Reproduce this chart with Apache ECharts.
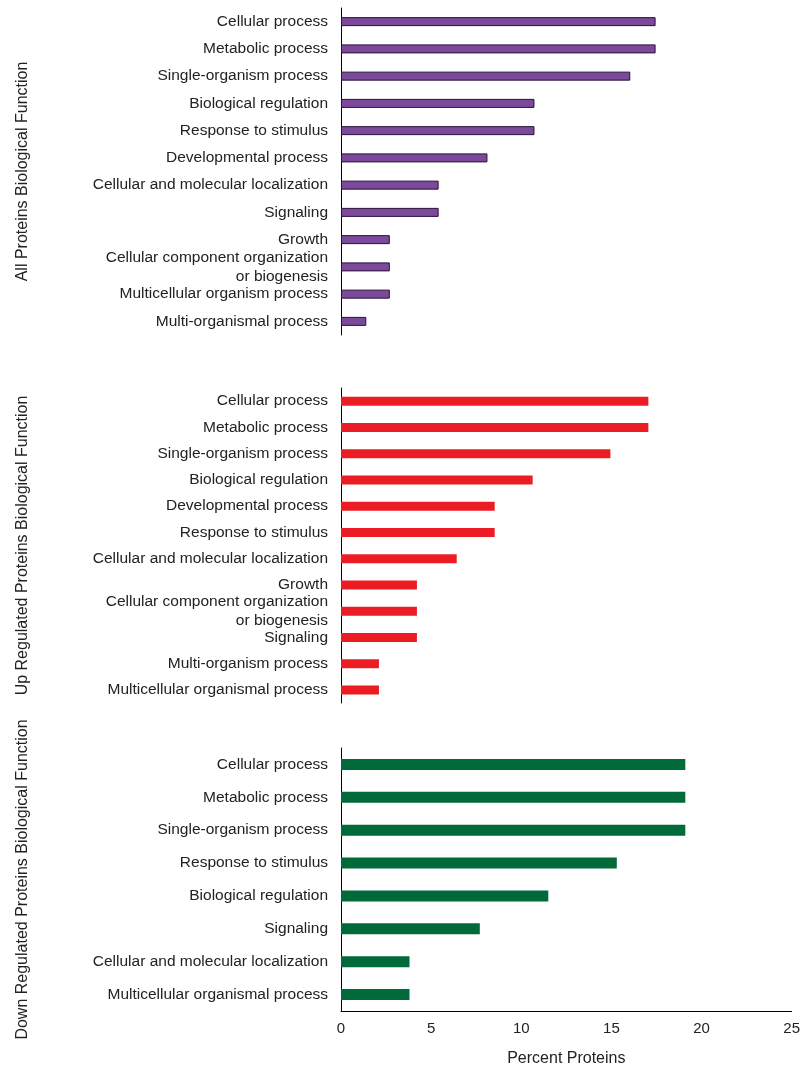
<!DOCTYPE html>
<html><head><meta charset="utf-8">
<script src="https://cdn.jsdelivr.net/npm/echarts@6/dist/echarts.min.js"></script>
<style>html,body{margin:0;padding:0;background:#fff}#c{width:803px;height:1071px}</style>
</head><body><div id="c"></div>
<script>
const cats1 = ["Cellular process","Metabolic process","Single-organism process","Biological regulation","Response to stimulus","Developmental process","Cellular and molecular localization","Signaling","Growth","Cellular component organization\nor biogenesis","Multicellular organism process","Multi-organismal process"];
const vals1 = [17.4,17.4,16.0,10.7,10.7,8.1,5.4,5.4,2.7,2.7,2.7,1.4];
const cats2 = ["Cellular process","Metabolic process","Single-organism process","Biological regulation","Developmental process","Response to stimulus","Cellular and molecular localization","Growth","Cellular component organization\nor biogenesis","Signaling","Multi-organism process","Multicellular organismal process"];
const vals2 = [17.0,17.0,14.9,10.6,8.5,8.5,6.4,4.2,4.2,4.2,2.1,2.1];
const cats3 = ["Cellular process","Metabolic process","Single-organism process","Response to stimulus","Biological regulation","Signaling","Cellular and molecular localization","Multicellular organismal process"];
const vals3 = [19.1,19.1,19.1,15.3,11.5,7.7,3.8,3.8];
const panelNames = ["All Proteins Biological Function","Up Regulated Proteins Biological Function","Down Regulated Proteins Biological Function"];
const xTicks = [0,5,10,15,20,25];

const grids = [{left:341,right:10,top:8,height:327},{left:341,right:10,top:388,height:315},{left:341,right:10,top:748,height:263}];
const cats=[cats1,cats2,cats3], vals=[vals1,vals2,vals3];
const colors=['#7b4a9b','#ec1c24','#006a3a'];
const barW=[9,9,11];
const lab={fontFamily:'Liberation Sans, Arial',fontSize:15.5,color:'#222'};
const option={
  animation:false,
  grid:grids,
  xAxis:grids.map((g,i)=>({gridIndex:i,type:'value',min:0,max:25,interval:5,show:i===2,
    axisLine:{show:true,lineStyle:{color:'#000'}},axisTick:{show:false},splitLine:{show:false},
    axisLabel:Object.assign({},lab,{margin:10,fontSize:15,formatter:v=>xTicks.includes(v)?String(v):''}),
    name:i===2?'Percent Proteins':'',nameLocation:'middle',nameGap:40,nameTextStyle:Object.assign({},lab,{fontSize:16})})),
  yAxis:grids.map((g,i)=>({gridIndex:i,type:'category',inverse:true,data:cats[i],
    axisLine:{show:true,lineStyle:{color:'#000'}},axisTick:{show:false},
    axisLabel:Object.assign({margin:13,lineHeight:19},lab),
    name:panelNames[i],nameLocation:'middle',nameRotate:90,nameGap:310,
    nameTextStyle:Object.assign({},lab,{fontSize:16})})),
  series:vals.map((v,i)=>({type:'bar',xAxisIndex:i,yAxisIndex:i,data:v,barWidth:barW[i],
    itemStyle:{color:colors[i],borderColor:i===0?'#2a1038':colors[i],borderWidth:i===0?1:0}}))
};
echarts.init(document.getElementById('c')).setOption(option);
</script></body></html>
